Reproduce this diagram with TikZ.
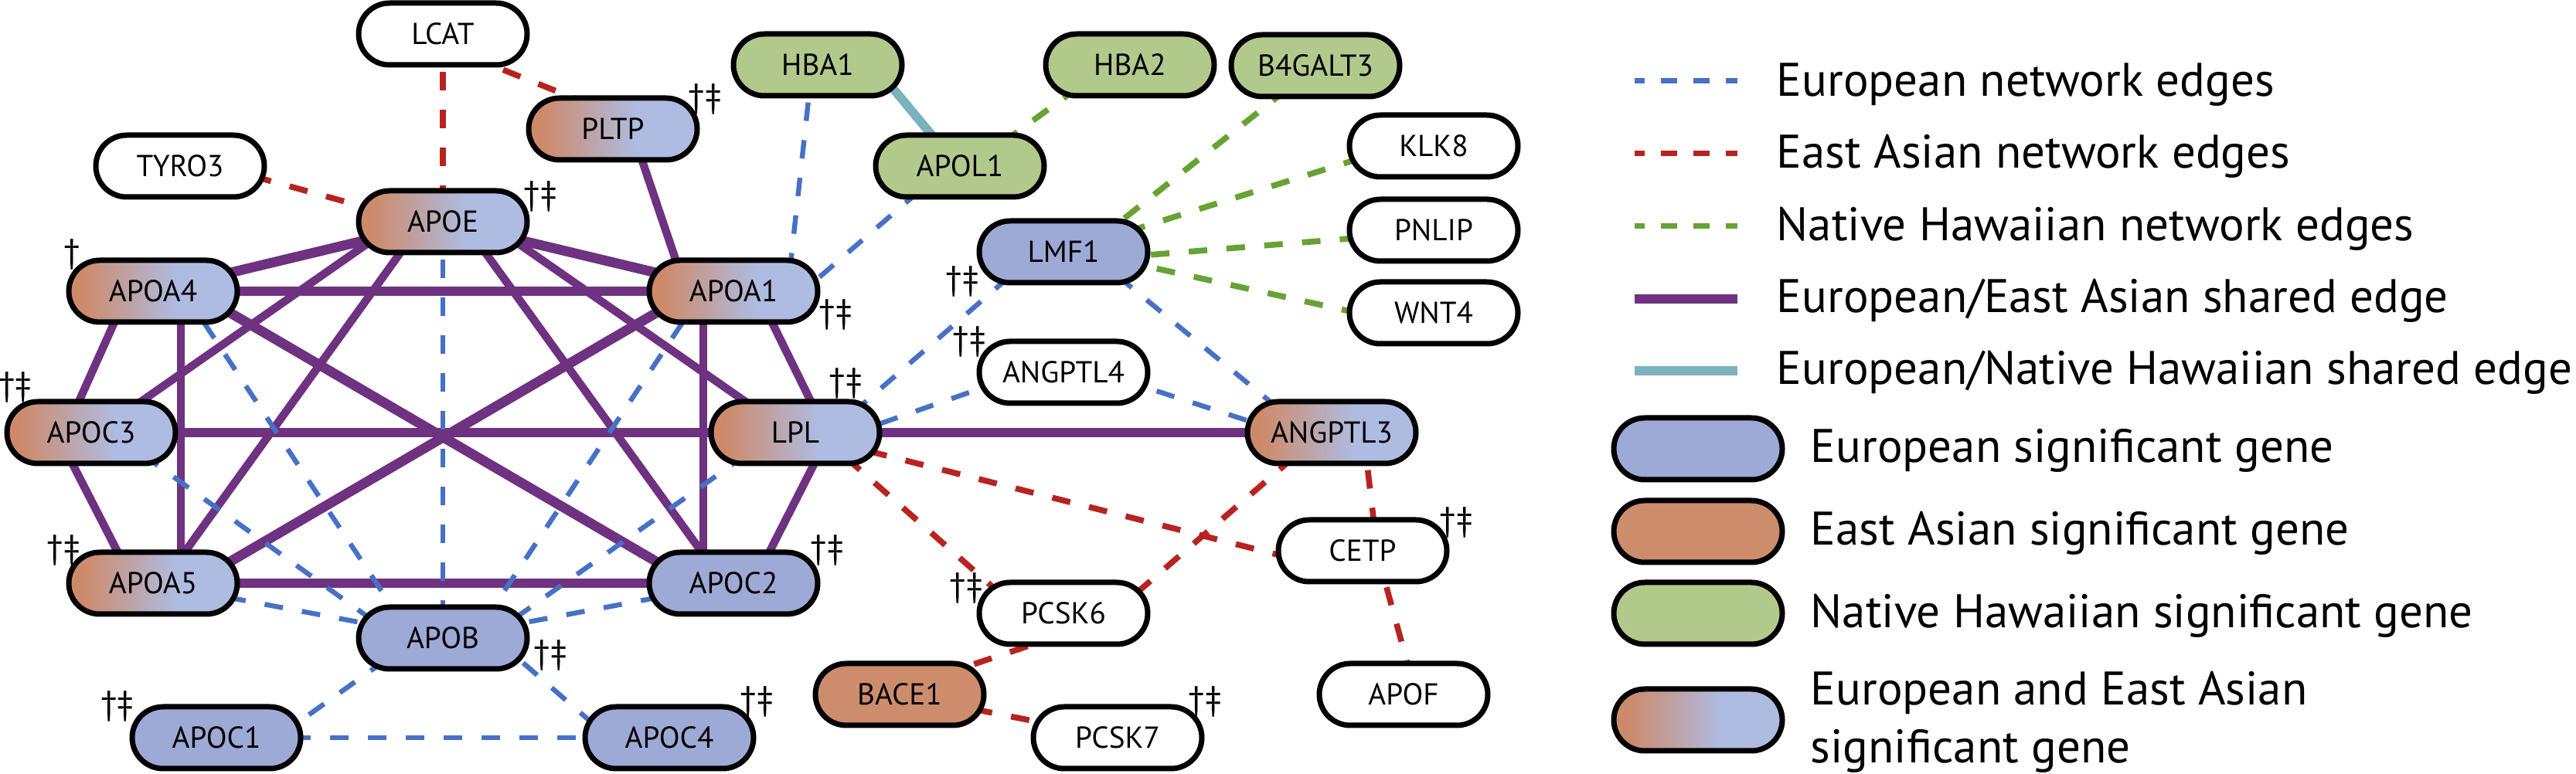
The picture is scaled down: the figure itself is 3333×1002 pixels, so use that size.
\documentclass[tikz,border=0pt]{standalone}
\usepackage{fontspec}
\setmainfont{PT Sans}
\usetikzlibrary{calc}
\pgfdeclarelayer{bg}
\pgfsetlayers{bg,main}
\definecolor{eublue}{HTML}{9DAAD6}
\definecolor{eaor}{HTML}{CD8D6D}
\definecolor{nhgreen}{HTML}{B1CA8C}
\definecolor{eaor2}{HTML}{CD8A6A}
\definecolor{eubl2}{HTML}{AEBCE1}
\definecolor{purp}{HTML}{6E3281}
\definecolor{eudash}{HTML}{4671C6}
\definecolor{eadash}{HTML}{B8231F}
\definecolor{nhdash}{HTML}{65A333}
\definecolor{tealc}{HTML}{7CB1BE}
\pgfdeclarehorizontalshading{eaeu}{100bp}{color(0bp)=(eaor2); color(29bp)=(eaor2); color(57bp)=(eubl2); color(100bp)=(eubl2)}
\tikzset{
 gene/.style={draw=black, line width=1.75pt, rounded corners=10pt, minimum width=54.5pt, minimum height=20pt, inner sep=0pt, font=\fontsize{9.8}{11}\selectfont, text height=6.9pt, text depth=0pt},
 gEU/.style={gene, fill=eublue},
 gEA/.style={gene, fill=eaor},
 gNH/.style={gene, fill=nhgreen},
 gMIX/.style={gene, shade, shading=eaeu},
 gW/.style={gene, fill=white},
 eEU/.style={draw=eudash, line width=1.6pt, dash pattern=on 6pt off 6.25pt},
 eEA/.style={draw=eadash, line width=1.9pt, dash pattern=on 6pt off 6.25pt},
 eNH/.style={draw=nhdash, line width=1.9pt, dash pattern=on 6pt off 6.25pt},
 ePU/.style={draw=purp, line width=3.2pt},
 ePUt/.style={draw=purp, line width=2.6pt},
 eTL/.style={draw=tealc, line width=2.9pt},
 dag/.style={font=\fontsize{11}{12}\selectfont, inner sep=0pt},
 legtxt/.style={font=\fontsize{15.25}{18.5}\selectfont, anchor=base west, inner sep=0pt},
 legdash/.style={line width=1.75pt, dash pattern=on 5.25pt off 5.25pt, dash phase=2pt},
}
\begin{document}
\begin{tikzpicture}[x=0.25pt,y=-0.25pt]
\useasboundingbox (0,0) rectangle (3333,1002);
% genes
\node[gW]   (LCAT)    at (573,44)   {LCAT};
\node[gMIX] (PLTP)    at (793,167)  {PLTP};
\node[gW]   (TYRO3)   at (233,215)  {TYRO3};
\node[gMIX] (APOE)    at (573,287)  {APOE};
\node[gMIX] (APOA4)   at (198,377)  {APOA4};
\node[gMIX] (APOA1)   at (949,377)  {APOA1};
\node[gMIX] (APOC3)   at (118,560)  {APOC3};
\node[gMIX] (LPL)     at (1029,560) {LPL};
\node[gMIX] (APOA5)   at (198,755)  {APOA5};
\node[gEU]  (APOC2)   at (949,755)  {APOC2};
\node[gEU]  (APOB)    at (573,826)  {APOB};
\node[gEU]  (APOC1)   at (280,955)  {APOC1};
\node[gEU]  (APOC4)   at (866,955)  {APOC4};
\node[gNH]  (HBA1)    at (1058,84)  {HBA1};
\node[gNH]  (HBA2)    at (1462,84)  {HBA2};
\node[gNH]  (B4GALT3) at (1702,85)  {B4GALT3};
\node[gNH]  (APOL1)   at (1242,215) {APOL1};
\node[gW]   (KLK8)    at (1855,189) {KLK8};
\node[gEU]  (LMF1)    at (1376,326) {LMF1};
\node[gW]   (PNLIP)   at (1855,298) {PNLIP};
\node[gW]   (WNT4)    at (1855,405) {WNT4};
\node[gW]   (ANGPTL4) at (1376,482) {ANGPTL4};
\node[gMIX] (ANGPTL3) at (1723,560) {ANGPTL3};
\node[gW]   (CETP)    at (1763,713) {CETP};
\node[gW]   (PCSK6)   at (1376,794) {PCSK6};
\node[gEA]  (BACE1)   at (1164,899) {BACE1};
\node[gW]   (PCSK7)   at (1446,955) {PCSK7};
\node[gW]   (APOF)    at (1816,899) {APOF};
% daggers
\node[dag] (dPLTP)  at (912,129)  {†‡};
\node[dag] (dAPOE)  at (699,255)  {†‡};
\node[dag] (dAPOA4) at (93,330)   {†};
\node[dag] (dAPOA1) at (1081,408) {†‡};
\node[dag] (dAPOC3) at (20,502)   {†‡};
\node[dag] (dLPL)   at (1094,497) {†‡};
\node[dag] (dAPOA5) at (82,713)   {†‡};
\node[dag] (dAPOC2) at (1070,713) {†‡};
\node[dag] (dAPOB)  at (712,849)  {†‡};
\node[dag] (dAPOC1) at (152,915)  {†‡};
\node[dag] (dAPOC4) at (979,909)  {†‡};
\node[dag] (dLMF1)  at (1245,365) {†‡};
\node[dag] (dANG4)  at (1254,443) {†‡};
\node[dag] (dCETP)  at (1884,677) {†‡};
\node[dag] (dPCSK6) at (1250,762) {†‡};
\node[dag] (dPCSK7) at (1559,909) {†‡};
\begin{pgfonlayer}{bg}
% European/East Asian shared (purple)
\draw[ePU] (APOE.center) -- (APOA4.center);
\draw[ePU] (APOE.center) -- (APOA1.center);
\draw[ePU] (APOA4.center) -- (APOA1.center);
\draw[ePU] (APOC3.center) -- (LPL.center);
\draw[ePU] (APOA5.center) -- (APOC2.center);
\draw[ePU] (LPL.center) -- (ANGPTL3.center);
\draw[ePU] ($(APOA4.center)+(52,0)$) -- ($(APOC2.center)+(-52,0)$);
\draw[ePU] ($(APOA1.center)+(-52,0)$) -- ($(APOA5.center)+(52,0)$);
\draw[ePUt] ($(APOE.center)+(-57,0)$) -- ($(APOC3.center)+(7,0)$);
\draw[ePUt] ($(APOE.center)+(-26,0)$) -- ($(APOA5.center)+(12,0)$);
\draw[ePUt] ($(APOE.center)+(26,0)$) -- ($(APOC2.center)+(-12,0)$);
\draw[ePUt] ($(APOE.center)+(57,0)$) -- ($(LPL.center)+(-7,0)$);
\draw[ePUt] ($(PLTP.center)+(24,0)$) -- ($(APOA1.center)+(-61,0)$);
\draw[ePUt] ($(APOA4.center)+(-32,0)$) -- ($(APOC3.center)+(-34,0)$);
\draw[ePUt] ($(APOC3.center)+(-45,0)$) -- ($(APOA5.center)+(-25,0)$);
\draw[ePUt] ($(APOA4.center)+(36,0)$) -- ($(APOA5.center)+(36,0)$);
\draw[ePUt] ($(APOA1.center)+(30,0)$) -- ($(LPL.center)+(40,0)$);
\draw[ePUt] ($(LPL.center)+(45,0)$) -- ($(APOC2.center)+(26,0)$);
\draw[ePUt] ($(APOA1.center)+(-39,0)$) -- ($(APOC2.center)+(-39,0)$);
% European/Native Hawaiian shared (teal)
\draw[eTL] ($(HBA1.center)+(72,0)$) -- ($(APOL1.center)+(-3,0)$);
% European edges (blue dashed)
\draw[eEU] (APOE.center) -- (APOB.center);
\draw[eEU] ($(APOA4.center)+(39,0)$) -- ($(APOB.center)+(-39,0)$);
\draw[eEU] ($(APOC3.center)+(27,0)$) -- ($(APOB.center)+(-59,0)$);
\draw[eEU] (APOA5.center) -- (APOB.center);
\draw[eEU] ($(APOA1.center)+(-39,0)$) -- ($(APOB.center)+(39,0)$);
\draw[eEU] ($(LPL.center)+(-23,0)$) -- ($(APOB.center)+(57,0)$);
\draw[eEU] (APOC2.center) -- (APOB.center);
\draw[eEU] ($(APOB.center)+(-34,0)$) -- ($(APOC1.center)+(78,0)$);
\draw[eEU] ($(APOB.center)+(67,0)$) -- ($(APOC4.center)+(-78,0)$);
\draw[eEU] (APOC1.center) -- (APOC4.center);
\draw[eEU] ($(HBA1.center)+(-7,0)$) -- ($(APOA1.center)+(70,0)$);
\draw[eEU] ($(APOL1.center)+(-15,0)$) -- ($(APOA1.center)+(90,0)$);
\draw[eEU] ($(LMF1.center)+(-33,0)$) -- ($(LPL.center)+(45,0)$);
\draw[eEU] ($(LMF1.center)+(32,0)$) -- ($(ANGPTL3.center)+(-31,0)$);
\draw[eEU] ($(ANGPTL4.center)+(-76,10)$) -- ($(LPL.center)+(71,2)$);
\draw[eEU] ($(ANGPTL4.center)+(74,9)$) -- ($(ANGPTL3.center)+(-43,6)$);
% East Asian edges (red dashed)
\draw[eEA] (LCAT.center) -- (APOE.center);
\draw[eEA] ($(LCAT.center)+(-13,10)$) -- ($(PLTP.center)+(37,-5)$);
\draw[eEA] ($(TYRO3.center)+(0,-13)$) -- ($(APOE.center)+(0,9)$);
\draw[eEA] ($(LPL.center)+(29,0)$) -- ($(PCSK6.center)+(-53,0)$);
\draw[eEA] (LPL.center) -- ($(CETP.center)+(-63,17)$);
\draw[eEA] ($(ANGPTL3.center)+(-12,0)$) -- ($(PCSK6.center)+(64,0)$);
\draw[eEA] ($(ANGPTL3.center)+(41,0)$) -- ($(CETP.center)+(19,0)$);
\draw[eEA] ($(CETP.center)+(18,0)$) -- ($(APOF.center)+(16,0)$);
\draw[eEA] ($(PCSK6.center)+(0,27)$) -- ($(BACE1.center)+(0,-7)$);
\draw[eEA] (BACE1.center) -- (PCSK7.center);
% Native Hawaiian edges (green dashed)
\draw[eNH] ($(HBA2.center)+(-27,0)$) -- ($(APOL1.center)+(14,0)$);
\draw[eNH] ($(B4GALT3.center)+(2,0)$) -- ($(LMF1.center)+(24,0)$);
\draw[eNH] ($(KLK8.center)+(0,-14)$) -- (LMF1.center);
\draw[eNH] ($(PNLIP.center)+(0,2)$) -- ($(LMF1.center)+(0,13)$);
\draw[eNH] ($(WNT4.center)+(0,22)$) -- ($(LMF1.center)+(0,-5)$);
\end{pgfonlayer}
% legend: edges
\coordinate (l1a) at (2115,105); \coordinate (l1b) at (2248,105);
\coordinate (l2a) at (2115,199); \coordinate (l2b) at (2248,199);
\coordinate (l3a) at (2115,293); \coordinate (l3b) at (2248,293);
\coordinate (l4a) at (2115,387); \coordinate (l4b) at (2248,387);
\coordinate (l5a) at (2115,480); \coordinate (l5b) at (2248,480);
\draw[legdash, draw=eudash] (l1a) -- (l1b);
\draw[legdash, draw=eadash] (l2a) -- (l2b);
\draw[legdash, draw=nhdash] (l3a) -- (l3b);
\draw[draw=purp, line width=3.2pt] (l4a) -- (l4b);
\draw[draw=tealc, line width=3.2pt] (l5a) -- (l5b);
\node[legtxt] (t1) at (2298,125) {European network edges};
\node[legtxt] (t2) at (2298,218) {East Asian network edges};
\node[legtxt] (t3) at (2298,312) {Native Hawaiian network edges};
\node[legtxt] (t4) at (2298,405) {European/East Asian shared edge};
\node[legtxt] (t5) at (2298,498) {European/Native Hawaiian shared edge};
% legend: genes
\node[gEU]  (g1) at (2197,581) {};
\node[gEA]  (g2) at (2197,688) {};
\node[gNH]  (g3) at (2197,794) {};
\node[gMIX] (g4) at (2197,932) {};
\node[legtxt] (t6) at (2342,599) {European significant gene};
\node[legtxt] (t7) at (2342,706) {East Asian significant gene};
\node[legtxt] (t8) at (2342,813) {Native Hawaiian significant gene};
\node[legtxt] (t9) at (2342,913) {European and East Asian};
\node[legtxt] (t10) at (2342,988) {significant gene};
\end{tikzpicture}
\end{document}
